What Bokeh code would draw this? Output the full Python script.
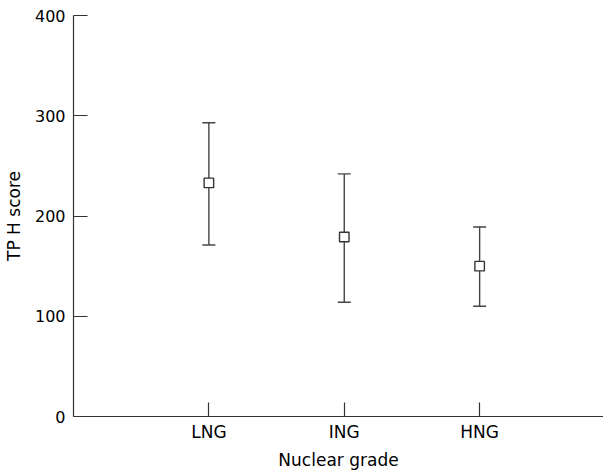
from bokeh.plotting import figure
from bokeh.models import Whisker, ColumnDataSource, FixedTicker, TeeHead, Range1d
from bokeh.embed import file_html
from bokeh.resources import INLINE

categories = ["LNG", "ING", "HNG"]
positions = [1, 2, 3]
means = [233, 179, 150]
upper = [293, 242, 189]
lower = [171, 114, 110]

FONT = "DejaVu Sans"
INK = "#333333"

src = ColumnDataSource(dict(x=positions, mean=means, upper=upper, lower=lower))

p = figure(frame_width=530, frame_height=401, output_backend="svg", toolbar_location=None,
           x_range=Range1d(0, 3.915), y_range=Range1d(0, 400),
           min_border_left=66, min_border_right=0, min_border_top=15, min_border_bottom=44)
p.outline_line_color = None
p.grid.grid_line_color = None
p.background_fill_color = "white"
p.border_fill_color = "white"

w = Whisker(source=src, base="x", upper="upper", lower="lower",
            line_color="#444444", line_width=1.4,
            upper_head=TeeHead(size=13, line_color="#444444", line_width=1.4),
            lower_head=TeeHead(size=13, line_color="#444444", line_width=1.4))
p.add_layout(w)
p.scatter(x="x", y="mean", source=src, marker="square", size=9.5,
          fill_color="white", line_color="#333333", line_width=1.4)

xa = p.xaxis[0]
xa.ticker = FixedTicker(ticks=positions)
xa.major_label_overrides = {pos: c for pos, c in zip(positions, categories)}
xa.axis_label = "Nuclear grade"

ya = p.yaxis[0]
ya.ticker = FixedTicker(ticks=[0, 100, 200, 300, 400])
ya.axis_label = "TP H score"

for ax in (xa, ya):
    ax.major_tick_in = 14
    ax.major_tick_out = 0
    ax.minor_tick_line_color = None
    ax.axis_line_color = INK
    ax.axis_line_width = 1.2
    ax.major_tick_line_color = INK
    ax.major_tick_line_width = 1.2
    ax.major_label_text_font = FONT
    ax.major_label_text_color = "black"
    ax.axis_label_text_font = FONT
    ax.axis_label_text_font_size = "17px"
    ax.axis_label_text_font_style = "normal"
    ax.axis_label_text_color = "black"

ya.major_label_text_font_size = "16px"
ya.major_label_standoff = 8
ya.axis_label_standoff = 8
xa.major_label_text_font_size = "17px"
xa.major_label_standoff = 5
xa.axis_label_standoff = 5

open("out.html", "w").write(file_html(p, INLINE))
